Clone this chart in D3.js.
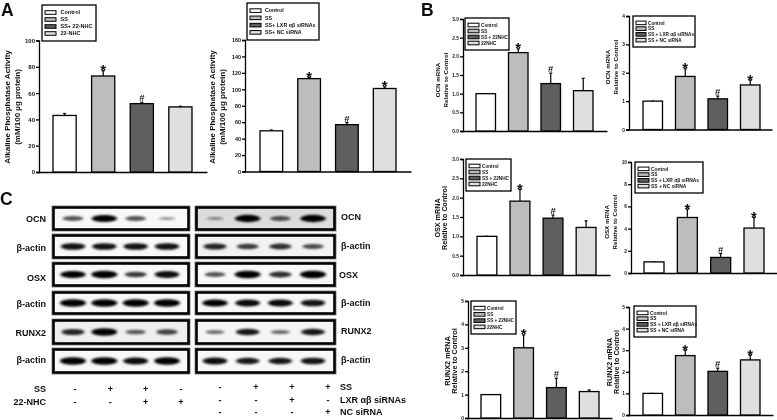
<!DOCTYPE html>
<html><head><meta charset="utf-8">
<script src="https://cdn.jsdelivr.net/npm/d3@7/dist/d3.min.js"></script>
<style>
html,body{margin:0;padding:0;background:#fff}
svg{display:block}
text{font-family:"Liberation Sans",Arial,sans-serif;font-weight:bold;fill:#111}
</style></head><body>
<script>
// ---------- data ----------
const legendNHC_A = ["Control","SS","SS+ 22-NHC","22-NHC"];
const legendSi_A  = ["Control","SS","SS+ LXR αβ siRNAs","SS+ NC siRNA"];
const legendNHC_B = ["Control","SS","SS + 22NHC","22NHC"];
const legendSi_B  = ["Control","SS","SS + LXR αβ siRNAs","SS + NC siRNA"];

const alpNHC    = [43, 73, 52, 49.5];
const alpNHCErr = [1.5, 4, 1, 0.5];
const alpSi     = [49.5, 113, 57, 101];
const alpSiErr  = [1, 1.5, 2.5, 2];
const ocnNHC    = [1, 2.1, 1.27, 1.08];
const ocnNHCErr = [0, 0.1, 0.28, 0.33];
const ocnSi     = [1, 1.87, 1.08, 1.57];
const ocnSiErr  = [0, 0.27, 0.1, 0.17];
const osxNHC    = [1, 1.91, 1.47, 1.23];
const osxNHCErr = [0, 0.3, 0.08, 0.17];
const osxSi     = [1, 5, 1.4, 4.05];
const osxSiErr  = [0, 0.75, 0.35, 0.95];
const runxNHC   = [1, 3, 1.3, 1.13];
const runxNHCErr= [0, 0.55, 0.4, 0.07];
const runxSi    = [1, 2.75, 2.02, 2.55];
const runxSiErr = [0, 0.25, 0.15, 0.22];

const marksNHC = ["", "*", "#", ""];
const marksSi  = ["", "*", "#", "*"];

const blotLabels = ["OCN","β-actin","OSX","β-actin","RUNX2","β-actin"];
const blotLeft = [
  [.62,.95,.62,.36],
  [.88,.88,.88,.88],
  [.95,1,.72,.9],
  [1,1,1,1],
  [.8,.98,.58,.68],
  [1,1,.92,.98]
];
const blotRight = [
  [.38,.97,.62,.96],
  [.8,.72,.76,.66],
  [.62,1,.76,1],
  [.95,.92,.92,.88],
  [.5,.85,.52,.85],
  [.9,.85,.85,.88]
];
const ssLeft  = ["-","+","+","-"];
const nhcLeft = ["-","-","+","+"];
const ssRight = ["-","+","+","+"];
const lxrRight= ["-","-","+","-"];
const ncRight = ["-","-","-","+"];

// ---------- layout ----------
const W = 777, H = 420;
const fills = ["#ffffff","#bdbdbd","#5f5f5f","#dfdfdf"];
const svg = d3.select("body").append("svg").attr("width",W).attr("height",H);
const defs = svg.append("defs");
defs.append("filter").attr("id","bl").attr("x","-30%").attr("y","-80%").attr("width","160%").attr("height","260%")
  .append("feGaussianBlur").attr("stdDeviation","1.5 1.1");
defs.append("filter").attr("id","soft").attr("x","-5%").attr("y","-5%").attr("width","110%").attr("height","110%")
  .append("feGaussianBlur").attr("stdDeviation","0.3");
const root = svg.append("g").attr("filter","url(#soft)");

function barChart(c){
  const g = root.append("g");
  const y = d3.scaleLinear().domain([0,c.max]).range([c.y0,c.y1]);
  const x = d3.scaleBand().domain(d3.range(c.values.length)).range([c.b0,c.b1]).paddingInner(.4).paddingOuter(0);
  const ax = d3.axisLeft(y).tickValues(d3.range(0,c.max+c.step/2,c.step)).tickSize(3).tickPadding(1)
    .tickFormat(d3.format(c.fmt));
  const ag = g.append("g").attr("transform",`translate(${c.x0},0)`).call(ax);
  ag.selectAll("path,line").attr("stroke","#000").attr("stroke-width",1.3);
  ag.selectAll("text").style("font-size",c.tick+"px").attr("fill","#222");
  const bx = d3.axisBottom(d3.scaleLinear().domain([0,1]).range([c.x0-2,c.x1])).tickValues([]).tickSizeOuter(0);
  g.append("g").attr("transform",`translate(0,${c.y0})`).call(bx)
    .select("path").attr("stroke","#000").attr("stroke-width",1.4);

  // error whiskers
  g.selectAll(".e").data(c.values).join("line")
    .attr("x1",(d,i)=>x(i)+x.bandwidth()/2).attr("x2",(d,i)=>x(i)+x.bandwidth()/2)
    .attr("y1",d=>y(d)).attr("y2",(d,i)=>y(d+c.errs[i])).attr("stroke","#000").attr("stroke-width",1.2);
  g.selectAll(".c").data(c.values).join("line")
    .attr("x1",(d,i)=>x(i)+x.bandwidth()/2-1.5).attr("x2",(d,i)=>x(i)+x.bandwidth()/2+1.5)
    .attr("y1",(d,i)=>y(d+c.errs[i])).attr("y2",(d,i)=>y(d+c.errs[i])).attr("stroke","#000").attr("stroke-width",1.2);
  // bars
  g.selectAll(".b").data(c.values).join("rect")
    .attr("x",(d,i)=>x(i)).attr("width",x.bandwidth())
    .attr("y",d=>y(d)).attr("height",d=>c.y0-y(d))
    .attr("fill",(d,i)=>fills[i]).attr("stroke","#000").attr("stroke-width",1.3);
  // significance marks
  g.selectAll(".m").data(c.marks).join("text")
    .attr("x",(d,i)=>x(i)+x.bandwidth()/2)
    .attr("y",(d,i)=>y(c.values[i]+c.errs[i])+(d==="*"?4.5:-1))
    .attr("text-anchor","middle").style("font-size",d=>d==="*"?"15px":"9.5px").attr("fill","#000").text(d=>d);

  // y title
  const t = g.append("text").attr("transform",`translate(${c.tx},${c.tc}) rotate(-90)`)
    .attr("text-anchor","middle").style("font-size",c.ts+"px").attr("fill","#222");
  c.title.forEach((s,i)=>t.append("tspan").attr("x",0).attr("dy",i?c.lh:0).text(s));

  // legend
  const l = c.leg;
  g.append("rect").attr("x",l[0]).attr("y",l[1]).attr("width",l[2]-l[0]).attr("height",l[3]-l[1])
    .attr("fill","#fff").attr("stroke","#000").attr("stroke-width",1.3);
  const rowH = (l[3]-l[1]-8)/c.legend.length;
  const ly = i => l[1]+4+rowH*(i+.5);
  g.selectAll(".ls").data(c.legend).join("rect")
    .attr("x",l[0]+3).attr("y",(d,i)=>ly(i)-1.8).attr("width",c.sw).attr("height",3.6)
    .attr("fill",(d,i)=>fills[i]).attr("stroke","#000").attr("stroke-width",1);
  g.selectAll(".lt").data(c.legend).join("text")
    .attr("x",l[0]+c.lx).attr("y",(d,i)=>ly(i)+1.8)
    .style("font-size",c.ls+"px").attr("fill","#222").text(d=>d);
}

const alpTitle = ["Alkaline Phosphatase Activity","(mM/100 µg protein)"];
const common = {tick:4.8,ls:4.7,ts:6.2,lh:7.5,lx:16,sw:11};
const charts = [
 {values:alpNHC,errs:alpNHCErr,marks:marksNHC,legend:legendNHC_A,max:100,step:20,fmt:"d",x0:39,x1:207,y0:172,y1:40.5,b0:53,b1:192,leg:[42,5,96,41],title:alpTitle,tx:10,tc:107,ts:8,lh:9.5,tick:6,ls:5.5,lx:18.5},
 {values:alpSi,errs:alpSiErr,marks:marksSi,legend:legendSi_A,max:160,step:20,fmt:"d",x0:245,x1:411,y0:171.5,y1:40,b0:260,b1:396,leg:[247,3,319,40],title:alpTitle,tx:215,tc:107,ts:8,lh:9.5,tick:5.4,ls:5.3,lx:18},
 {values:ocnNHC,errs:ocnNHCErr,marks:marksNHC,legend:legendNHC_B,max:3,step:.5,fmt:".1f",x0:463,x1:607,y0:131,y1:19,b0:476,b1:593,leg:[465,18,509,50],title:["OCN mRNA","Relative to Control"],tx:440,tc:80},
 {values:ocnSi,errs:ocnSiErr,marks:marksSi,legend:legendSi_B,max:4,step:1,fmt:"d",x0:629,x1:772,y0:129.5,y1:16,b0:643,b1:760,leg:[633,16,695,47],title:["OCN mRNA","Relative to Control"],tx:610,tc:67,ls:4.7,lx:15,sw:10},
 {values:osxNHC,errs:osxNHCErr,marks:marksNHC,legend:legendNHC_B,max:3,step:.5,fmt:".1f",x0:463,x1:610,y0:275,y1:159,b0:477,b1:596,leg:[466,159,511,191],title:["OSX mRNA","Relative to Control"],tx:439.5,tc:218,ts:7.2},
 {values:osxSi,errs:osxSiErr,marks:marksSi,legend:legendSi_B,max:10,step:2,fmt:"d",x0:631,x1:777,y0:273,y1:162,b0:644,b1:764,leg:[635,162,703,193],title:["OSX mRNA","Relative to Control"],tx:609,tc:222,ls:4.9},
 {values:runxNHC,errs:runxNHCErr,marks:marksNHC,legend:legendNHC_B,max:5,step:1,fmt:"d",x0:468,x1:612,y0:418,y1:301,b0:481,b1:599,leg:[471,301,516,334],title:["RUNX2 mRNA","Relative to Control"],tx:449.5,tc:361,ts:7.4},
 {values:runxSi,errs:runxSiErr,marks:marksSi,legend:legendSi_B,max:5,step:1,fmt:"d",x0:629,x1:773,y0:415,y1:307,b0:643,b1:760,leg:[634,306,696,337],title:["RUNX2 mRNA","Relative to Control"],tx:611.5,tc:362,ts:7.2,ls:4.8}
];
charts.forEach(c=>barChart(Object.assign({},common,c)));

// ---------- blots ----------
const rowY = [[206,231],[234,259],[262,287],[291,315],[319,345],[348,374]];
const rx = d3.scaleLinear().domain([.3,1]).range([8,13]);
const ry = d3.scaleLinear().domain([.3,1]).range([1.3,3.8]);

function blot(rows,x0,x1,cols,bg){
  const xp = d3.scalePoint().domain(d3.range(4)).range(cols);
  rows.forEach((r,ri)=>{
    const [a,b]=rowY[ri];
    const g = root.append("g");
    g.append("rect").attr("x",x0).attr("y",a).attr("width",x1-x0).attr("height",b-a)
      .attr("fill",bg[ri]).attr("stroke","#8a8a8a").attr("stroke-width",1);
    const clip = "c"+x0+"_"+ri;
    defs.append("clipPath").attr("id",clip).append("rect").attr("x",x0).attr("y",a).attr("width",x1-x0).attr("height",b-a);
    const bands = g.append("g").attr("clip-path",`url(#${clip})`).append("g").attr("filter","url(#bl)");
    bands.selectAll("ellipse").data(r).join("ellipse")
      .attr("cx",(d,i)=>xp(i)).attr("cy",(a+b)/2)
      .attr("rx",d=>rx(d)).attr("ry",d=>ry(d))
      .attr("fill","#000").attr("fill-opacity",d=>Math.min(1,d+.05));
    g.append("rect").attr("x",x0+1.5).attr("y",a+1.5).attr("width",x1-x0-3).attr("height",b-a-3)
      .attr("fill","none").attr("stroke","#000").attr("stroke-width",2.6);
  });
}
blot(blotLeft,52,190,[73,167],["#f8f8f8","#f8f8f8","#f8f8f8","#f8f8f8","#efefef","#f8f8f8"]);
blot(blotRight,195,336,[215,313],["#dcdcdc","#f2f2f2","#f8f8f8","#f8f8f8","#f4f4f4","#f8f8f8"]);

const labL = root.append("g").style("font-size","9px");
labL.selectAll("text").data(blotLabels).join("text")
  .attr("text-anchor","end").attr("x",46)
  .attr("y",(d,i)=>[222,251,281,307,336,363][i]).text(d=>d);
const labR = root.append("g").style("font-size","9px");
labR.selectAll("text").data(blotLabels).join("text")
  .attr("x",(d,i)=>i===2?339:341)
  .attr("y",(d,i)=>[220,249,278,306,334,363][i]).text(d=>d);

// ---------- treatment tables ----------
function table(label,signs,yPos,lx,anchor,cols){
  const g = root.append("g").style("font-size","9px");
  g.append("text").attr("x",lx).attr("y",yPos).attr("text-anchor",anchor).text(label);
  const xs = d3.scalePoint().domain(d3.range(4)).range(cols);
  g.selectAll(".s").data(signs).join("text").attr("x",(d,i)=>xs(i)).attr("y",yPos)
    .attr("text-anchor","middle").text(d=>d);
}
table("SS",ssLeft,392,46,"end",[75,181]);
table("22-NHC",nhcLeft,405,46,"end",[75,181]);
table("SS",ssRight,390,340,"start",[220,328]);
table("LXR αβ  siRNAs",lxrRight,403,340,"start",[220,328]);
table("NC siRNA",ncRight,415,340,"start",[220,328]);

// ---------- panel letters ----------
const letters = ["A","B","C"];
const letterX = [1,421,0], letterY = [16,16,205];
root.selectAll(".pl").data(letters).join("text")
  .attr("x",(d,i)=>letterX[i]).attr("y",(d,i)=>letterY[i]).style("font-size","17.5px").attr("fill","#000").text(d=>d);
</script>
</body></html>
